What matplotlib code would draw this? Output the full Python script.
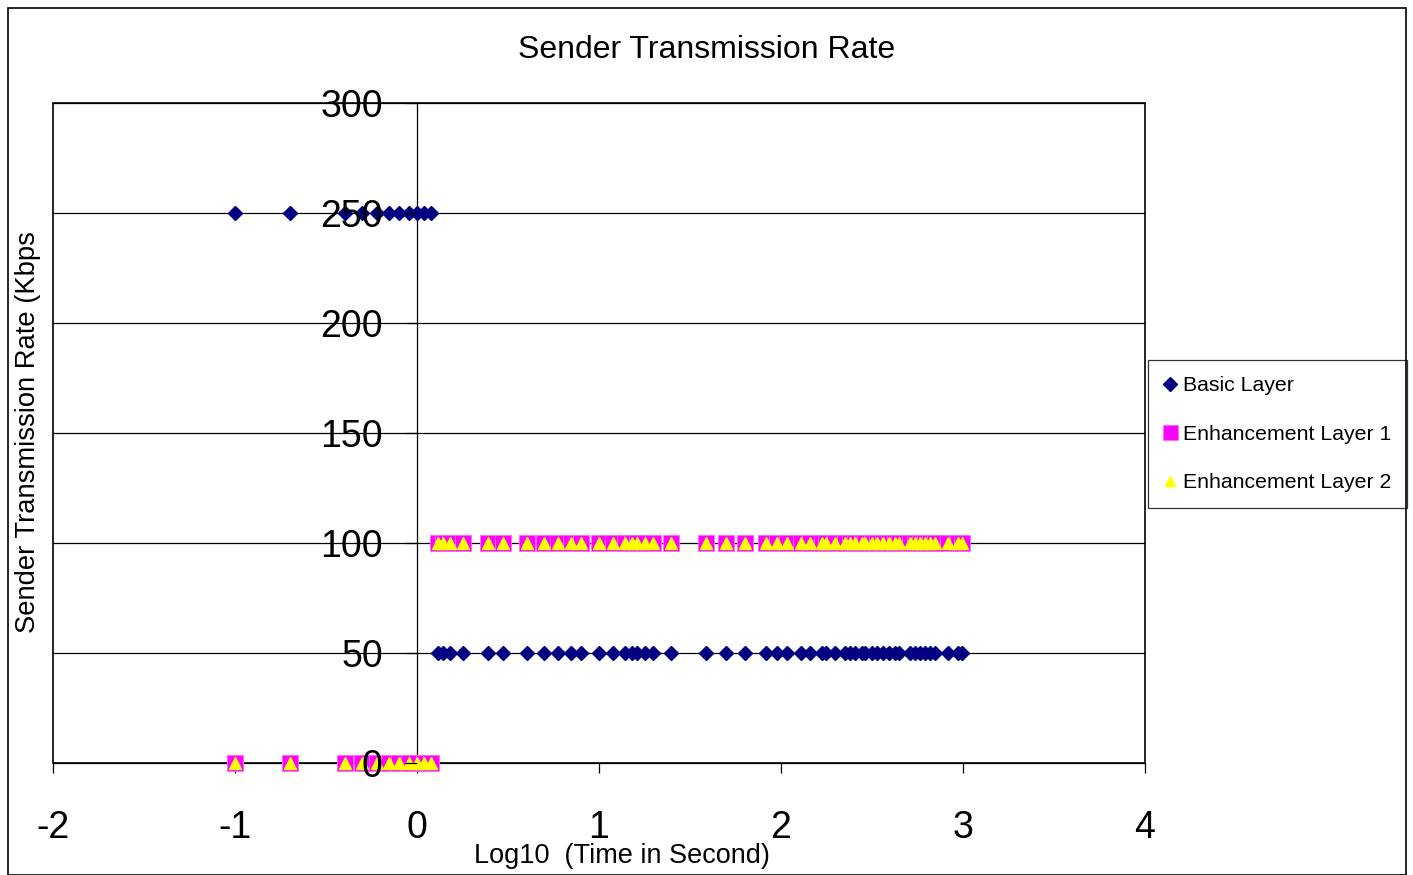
import matplotlib
matplotlib.use("Agg")
import matplotlib.pyplot as plt
from matplotlib.patches import Rectangle

plt.rcParams['font.family'] = ['Liberation Sans', 'DejaVu Sans']

# log10(time) of the samples before the rate switch (rate 250 / 0)
x_early = [-1.0, -0.699, -0.398, -0.301, -0.222, -0.155, -0.097, -0.046,
           0.0, 0.041, 0.079]
# log10(time) of the samples after the switch (rate 50 / 100)
x_late = [0.115, 0.143, 0.181, 0.253, 0.39, 0.473, 0.604, 0.698, 0.775,
          0.846, 0.901, 1.0, 1.077, 1.143, 1.181, 1.209, 1.253, 1.297,
          1.396, 1.588, 1.698, 1.802, 1.918, 1.978, 2.033, 2.11, 2.16,
          2.225, 2.247, 2.297, 2.352, 2.379, 2.407, 2.445, 2.462, 2.5,
          2.527, 2.56, 2.593, 2.626, 2.648, 2.709, 2.736, 2.764, 2.791,
          2.819, 2.846, 2.918, 2.973, 2.995]

basic_early, basic_late = 250, 50
enh_early, enh_late = 0, 100

yticks = [0, 50, 100, 150, 200, 250, 300]
xticks = [-2, -1, 0, 1, 2, 3, 4]

x_all = x_early + x_late
basic = [basic_early] * len(x_early) + [basic_late] * len(x_late)
enh1 = [enh_early] * len(x_early) + [enh_late] * len(x_late)
enh2 = [enh_early] * len(x_early) + [enh_late] * len(x_late)

fig = plt.figure(figsize=(14.13, 8.75), dpi=100)
ax = fig.add_axes([53/1413, 1 - 763/875, (1145-53)/1413, (763-103)/875])

# y axis crosses at x = 0 (set before ticks, it resets them)
ax.spines['left'].set_position(('data', 0))
ax.spines['left'].set_linewidth(0.9)
ax.spines['right'].set_visible(False)
ax.spines['top'].set_visible(False)
ax.spines['bottom'].set_linewidth(0.9)

ax.plot(x_all, basic, ls='none', marker='D', ms=7.5, color='#000080',
        mec='#000080', label='Basic Layer', clip_on=False, zorder=3)
ax.plot(x_all, enh1, ls='none', marker='s', ms=12, color='#FF00FF',
        mec='#FF66FF', mew=0.6, label='Enhancement Layer 1', clip_on=False, zorder=3)
ax.plot(x_all, enh2, ls='none', marker='^', ms=8.5, color='#FFFF00',
        mec='#FFFF00', label='Enhancement Layer 2', clip_on=False, zorder=3.1)

ax.set_xlim(-2, 4)
ax.set_ylim(0, 300)
ax.set_xticks(xticks)
ax.set_yticks(yticks)
ax.set_xticklabels([str(v) for v in xticks], fontsize=27)
ax.set_yticklabels([str(v) for v in yticks], fontsize=27)
for v in yticks[1:]:
    ax.axhline(v, color='black', lw=0.9, zorder=1)

ax.add_patch(Rectangle((0, 0), 1, 1, transform=ax.transAxes, fill=False,
                       ec='black', lw=1.2, zorder=0.5, clip_on=False))
ax.tick_params(axis='y', direction='out', length=8.6, width=0.9, pad=16)
ax.tick_params(axis='x', direction='out', length=7, width=0.9, pad=27)
ax.yaxis.set_zorder(5)
for t in ax.get_yticklabels():
    t.set_verticalalignment('center_baseline')

fig.text(0.5, 1 - 58/875, 'Sender Transmission Rate', ha='center',
         va='baseline', fontsize=23)
fig.text(28/1413, 1 - 432/875, 'Sender Transmission Rate (Kbps', rotation=90,
         ha='center', va='center', fontsize=19.7)
fig.text(622/1413, 1 - 856/875, 'Log10  (Time in Second)', ha='center',
         va='center', fontsize=19.5)

leg = ax.legend(loc='upper left', bbox_to_anchor=(1148/1413, 1 - 360/875),
                bbox_transform=fig.transFigure, frameon=True, fancybox=False,
                fontsize=15.3, handlelength=0.6, handletextpad=0.3,
                labelspacing=1.4, borderpad=0.75, markerscale=0.9,
                borderaxespad=0)
leg.get_frame().set_edgecolor('black')
leg.get_frame().set_linewidth(0.9)

fig.patches.append(Rectangle((8/1413, 0), 1398/1413, 1 - 8/875,
                             transform=fig.transFigure, fill=False,
                             ec='black', lw=1.2))

fig.savefig('out.png', dpi=100)
